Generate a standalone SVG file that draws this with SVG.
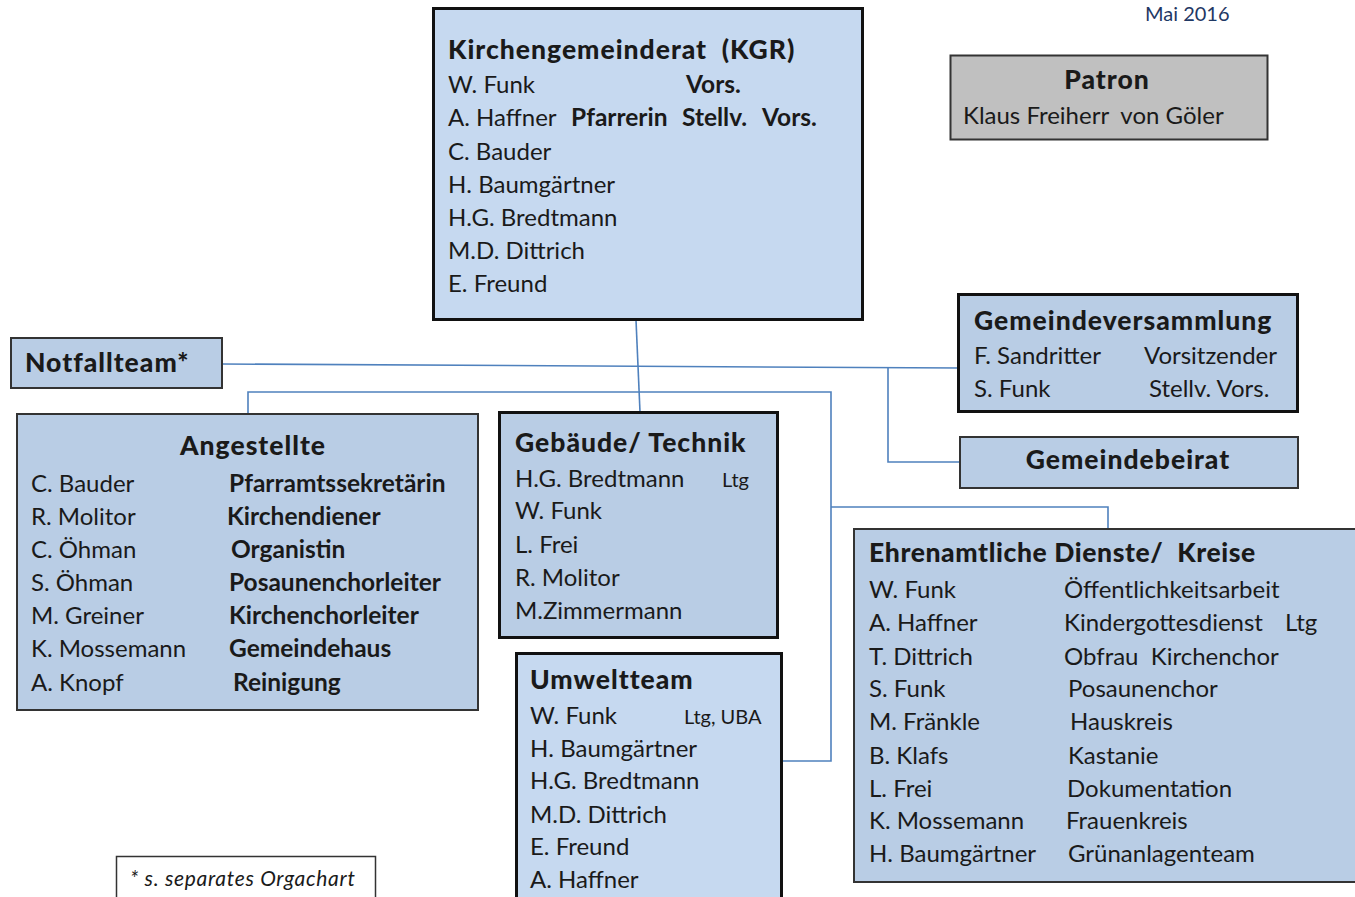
<svg xmlns="http://www.w3.org/2000/svg" width="1355" height="897" viewBox="0 0 1355 897" xml:space="preserve">
<style>
text{font-family:Lato,"Open Sans","Liberation Sans",sans-serif;fill:#1a1a1a;font-size:24px;white-space:pre}
.b{font-weight:bold;font-size:24.5px}
.t{font-weight:900;font-size:26.5px;letter-spacing:1px}
.s{font-size:20px}
.bx1{fill:#c6d9f0;stroke:#111;stroke-width:3}
.bx2{fill:#b9cde5;stroke:#111;stroke-width:3}
.bx3{fill:#b9cde5;stroke:#333;stroke-width:2}
.c{fill:none;stroke:#4f81bd;stroke-width:1.6}
.m{text-anchor:middle}
</style>
<rect width="1355" height="897" fill="#fff"/>
<text x="1145" y="21" class="s" style="fill:#1f3864">Mai 2016</text>

<g id="connectors">
<path class="c" d="M636,320 L640,412"/>
<path class="c" d="M222,364 L960,368"/>
<path class="c" d="M888,367 L888,462 L960,462"/>
<path class="c" d="M248,414 L248,392 L831,392 L831,761 L783,761"/>
<path class="c" d="M831,507 L1108,507 L1108,529"/>
</g>

<g id="kgr">
<rect class="bx1" x="433.5" y="8.5" width="429" height="311"/>
<text x="448" y="59" class="t">Kirchengemeinderat  (KGR)</text>
<text x="448" y="93">W. Funk</text><text x="686" y="93" class="b">Vors.</text>
<text x="448" y="126">A. Haffner</text><text x="571" y="126" class="b">Pfarrerin</text><text x="682" y="126" class="b">Stellv.</text><text x="762" y="126" class="b">Vors.</text>
<text x="448" y="160">C. Bauder</text>
<text x="448" y="193">H. Baumgärtner</text>
<text x="448" y="226">H.G. Bredtmann</text>
<text x="448" y="259">M.D. Dittrich</text>
<text x="448" y="292">E. Freund</text>
</g>

<g id="patron">
<rect x="950.5" y="55.5" width="317" height="84" fill="#c0c0c0" stroke="#333" stroke-width="2"/>
<text x="1107" y="89" class="t m">Patron</text>
<text x="963" y="124">Klaus Freiherr  von Göler</text>
</g>

<g id="notfallteam">
<rect class="bx3" x="11" y="338" width="211" height="50"/>
<text x="25" y="372" class="t">Notfallteam*</text>
</g>

<g id="gemeindeversammlung">
<rect class="bx2" x="958.5" y="294.5" width="339" height="117"/>
<text x="974" y="330" class="t">Gemeindeversammlung</text>
<text x="974" y="364">F. Sandritter</text><text x="1144" y="364">Vorsitzender</text>
<text x="974" y="397">S. Funk</text><text x="1149" y="397">Stellv. Vors.</text>
</g>

<g id="gemeindebeirat">
<rect class="bx3" x="960" y="437" width="338" height="51"/>
<text x="1128" y="469" class="t m">Gemeindebeirat</text>
</g>

<g id="angestellte">
<rect class="bx3" x="17" y="414" width="461" height="296"/>
<text x="253" y="455" class="t m">Angestellte</text>
<text x="31" y="492">C. Bauder</text><text x="229" y="492" class="b">Pfarramtssekretärin</text>
<text x="31" y="525">R. Molitor</text><text x="227" y="525" class="b">Kirchendiener</text>
<text x="31" y="558">C. Öhman</text><text x="231" y="558" class="b">Organistin</text>
<text x="31" y="591">S. Öhman</text><text x="229" y="591" class="b">Posaunenchorleiter</text>
<text x="31" y="624">M. Greiner</text><text x="229" y="624" class="b">Kirchenchorleiter</text>
<text x="31" y="657">K. Mossemann</text><text x="229" y="657" class="b">Gemeindehaus</text>
<text x="31" y="691">A. Knopf</text><text x="233" y="691" class="b">Reinigung</text>
</g>

<g id="gebaeude">
<rect class="bx2" x="499.5" y="412.5" width="278" height="225"/>
<text x="515" y="452" class="t">Gebäude/ Technik</text>
<text x="515" y="487">H.G. Bredtmann</text><text x="722" y="487" class="s">Ltg</text>
<text x="515" y="519">W. Funk</text>
<text x="515" y="553">L. Frei</text>
<text x="515" y="586">R. Molitor</text>
<text x="515" y="619">M.Zimmermann</text>
</g>

<g id="umweltteam">
<rect class="bx1" x="516.5" y="653.5" width="265" height="260"/>
<text x="530" y="689" class="t">Umweltteam</text>
<text x="530" y="724">W. Funk</text><text x="684" y="724" class="s">Ltg, UBA</text>
<text x="530" y="757">H. Baumgärtner</text>
<text x="530" y="789">H.G. Bredtmann</text>
<text x="530" y="823">M.D. Dittrich</text>
<text x="530" y="855">E. Freund</text>
<text x="530" y="888">A. Haffner</text>
</g>

<g id="ehrenamtliche">
<rect class="bx3" x="854" y="529" width="520" height="353"/>
<text x="869" y="562" class="t" style="letter-spacing:0.6px">Ehrenamtliche Dienste/  Kreise</text>
<text x="869" y="598">W. Funk</text><text x="1064" y="598">Öffentlichkeitsarbeit</text>
<text x="869" y="631">A. Haffner</text><text x="1064" y="631">Kindergottesdienst</text><text x="1285" y="631">Ltg</text>
<text x="869" y="665">T. Dittrich</text><text x="1064" y="665">Obfrau  Kirchenchor</text>
<text x="869" y="697">S. Funk</text><text x="1068" y="697">Posaunenchor</text>
<text x="869" y="730">M. Fränkle</text><text x="1070" y="730">Hauskreis</text>
<text x="869" y="764">B. Klafs</text><text x="1068" y="764">Kastanie</text>
<text x="869" y="797">L. Frei</text><text x="1067" y="797">Dokumentation</text>
<text x="869" y="829">K. Mossemann</text><text x="1066" y="829">Frauenkreis</text>
<text x="869" y="862">H. Baumgärtner</text><text x="1068" y="862">Grünanlagenteam</text>
</g>

<g id="footnote">
<rect x="116.5" y="856.5" width="259" height="60" fill="#fff" stroke="#333" stroke-width="1.5"/>
<text x="130" y="886" style="font-size:21px;font-style:italic;letter-spacing:0.7px">* s. separates Orgachart</text>
</g>
</svg>
